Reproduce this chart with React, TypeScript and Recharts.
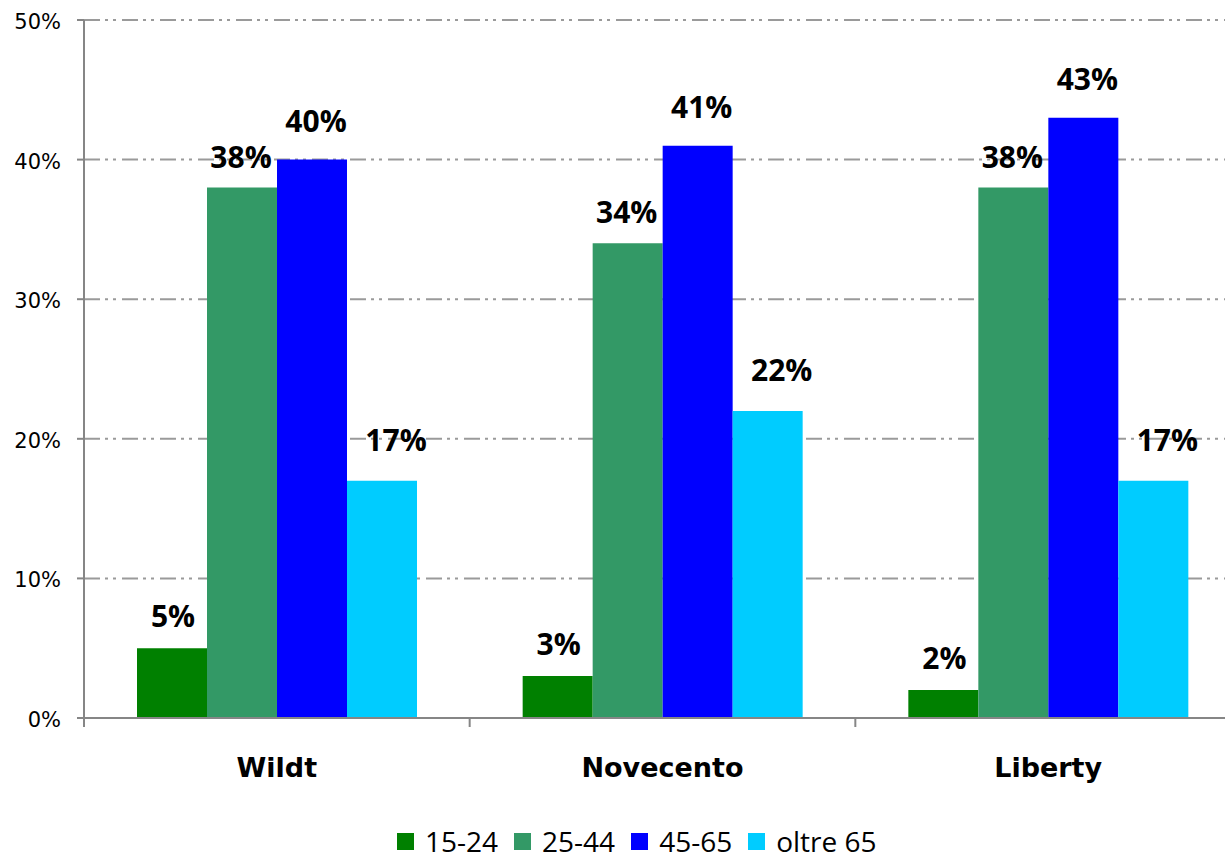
import React from 'react';
import { BarChart, Bar, XAxis, YAxis, CartesianGrid } from 'recharts';

const categories = ['Wildt', 'Novecento', 'Liberty'];
const seriesNames = ['15-24', '25-44', '45-65', 'oltre 65'];
const values1524 = [5, 3, 2];
const values2544 = [38, 34, 38];
const values4565 = [40, 41, 43];
const valuesOltre65 = [17, 22, 17];
const yTicks = [0, 10, 20, 30, 40, 50];
const colors = ['#008000', '#339966', '#0000FF', '#00CCFF'];
const keys = ['s1', 's2', 's3', 's4'];

const data = categories.map((name, i) => ({
  name,
  s1: values1524[i],
  s2: values2544[i],
  s3: values4565[i],
  s4: valuesOltre65[i],
}));

const CHART_W = 1241;
const CHART_H = 864;
const PLOT_LEFT = 84;
const BAND = (CHART_W - PLOT_LEFT) / categories.length;
const AXIS_COLOR = '#868686';

// label style per series: [dx, gap above bar top]
const labelStyle = [
  [1, 21],
  [-1, 20],
  [4, 28],
  [14, 30],
];

const makeLabel = (idx: number) => (props: any) => {
  const { x, y, width, value } = props;
  const [dx, gap] = labelStyle[idx];
  return (
    <text
      x={x + width / 2 + dx}
      y={y - gap}
      textAnchor="middle"
      fontFamily="'Open Sans', sans-serif"
      fontWeight="bold"
      fontSize={30}
      fill="#000"
    >
      {`${value}%`}
    </text>
  );
};

const XTick = (props: any) => {
  const { x, y, payload } = props;
  const left = x - BAND / 2;
  return (
    <g>
      <line x1={left} x2={left} y1={y} y2={y + 9} stroke={AXIS_COLOR} strokeWidth={2} />
      <text
        x={x}
        y={y + 59}
        textAnchor="middle"
        fontFamily="'DejaVu Sans', sans-serif"
        fontWeight="bold"
        fontSize={27}
        fill="#000"
      >
        {payload.value}
      </text>
    </g>
  );
};

const YTick = (props: any) => {
  const { x, y, payload } = props;
  return (
    <text
      x={x}
      y={y + 9}
      textAnchor="end"
      fontFamily="'DejaVu Sans', sans-serif"
      fontSize={21}
      fill="#000"
    >
      {`${payload.value}%`}
    </text>
  );
};

export default function App() {
  return (
    <div
      style={{
        position: 'absolute',
        left: 0,
        top: 0,
        width: 1225,
        height: 864,
        overflow: 'hidden',
        background: '#fff',
      }}
    >
      <BarChart
        width={CHART_W}
        height={CHART_H}
        data={data}
        margin={{ top: 20, right: 0, bottom: 86, left: 0 }}
        barCategoryGap={53}
        barGap={0}
      >
        <CartesianGrid
          horizontal={true}
          vertical={false}
          stroke="#9a9a9a"
          strokeWidth={2}
          strokeDasharray="16 5 3 5 3 6"
        />
        <XAxis
          dataKey="name"
          height={60}
          tickLine={false}
          tickSize={0}
          tickMargin={0}
          axisLine={{ stroke: AXIS_COLOR, strokeWidth: 2 }}
          tick={<XTick />}
          interval={0}
        />
        <YAxis
          width={PLOT_LEFT}
          domain={[0, 50]}
          ticks={yTicks}
          interval={0}
          tickSize={7}
          tickMargin={16}
          tickLine={{ stroke: AXIS_COLOR, strokeWidth: 2 }}
          axisLine={{ stroke: AXIS_COLOR, strokeWidth: 2 }}
          tick={<YTick />}
        />
        {keys.map((k, i) => (
          <Bar
            key={k}
            dataKey={k}
            name={seriesNames[i]}
            fill={colors[i]}
            isAnimationActive={false}
            label={makeLabel(i)}
          />
        ))}
      </BarChart>
      <div
        style={{
          position: 'absolute',
          left: 397,
          top: 825,
          height: 32,
          display: 'flex',
          alignItems: 'center',
          fontFamily: "'Open Sans', sans-serif",
          fontSize: 28,
          color: '#000',
          lineHeight: '32px',
          whiteSpace: 'nowrap',
        }}
      >
        {seriesNames.map((n, i) => (
          <div key={n} style={{ display: 'flex', alignItems: 'center', marginRight: 16 }}>
            <div style={{ width: 17, height: 17, background: colors[i], marginRight: 11 }} />
            <span>{n}</span>
          </div>
        ))}
      </div>
    </div>
  );
}
